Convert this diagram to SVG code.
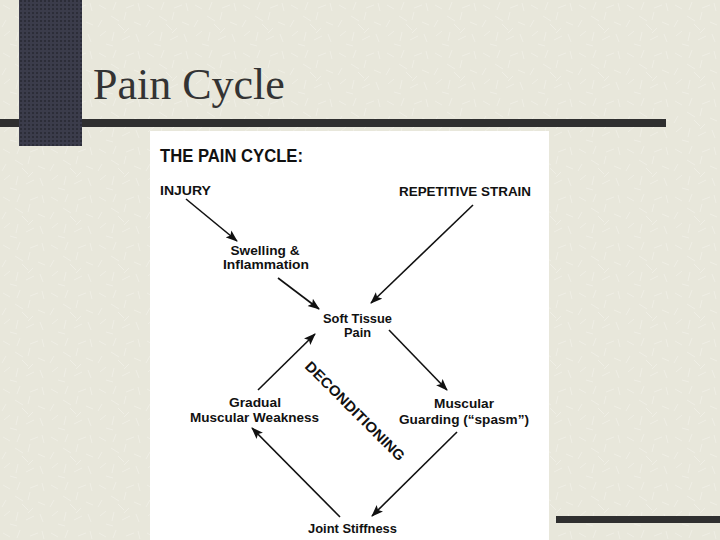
<svg xmlns="http://www.w3.org/2000/svg" width="720" height="540" viewBox="0 0 720 540">
<style>
.lbl{font-family:"Liberation Sans",Arial,sans-serif;font-weight:bold;fill:#111;text-anchor:middle;font-size:13px}
.cap{font-family:"Liberation Sans",Arial,sans-serif;font-weight:bold;fill:#111;font-size:12.5px}
.conn{stroke:#111;stroke-width:1.6;fill:none;marker-end:url(#ah)}
.bar{fill:#2f2f2f}
</style>
<defs>
<marker id="ah" viewBox="0 0 12 10" refX="11" refY="5" markerWidth="12" markerHeight="10" markerUnits="userSpaceOnUse" orient="auto">
<path d="M0,0.5 L12,5 L0,9.5 L2.5,5 Z" fill="#111"/>
</marker>
<pattern id="tex" width="48" height="48" patternUnits="userSpaceOnUse">
<rect width="48" height="48" fill="#e8e7db"/>
<g stroke="#efeee5" stroke-width="1">
<path d="M3,5 l7,4 M20,2 l-3,8 M30,8 l8,-3 M42,3 l2,8 M6,20 l-4,7 M15,16 l8,5 M28,20 l2,-8 M38,22 l7,3 M4,36 l6,-5 M18,32 l-2,9 M26,40 l8,-4 M40,34 l3,8 M10,44 l7,2 M33,28 l-5,5 M22,24 l6,6"/>
</g>
</pattern>
<pattern id="dots" width="4" height="4" patternUnits="userSpaceOnUse">
<rect width="4" height="4" fill="#3b3c4b"/>
<rect x="0" y="0" width="2" height="2" fill="#2c2d38"/>
</pattern>
</defs>
<rect width="720" height="540" fill="url(#tex)"/>
<rect class="bar" x="0" y="119" width="666" height="8"/>
<rect x="19" y="0" width="63" height="146" fill="url(#dots)"/>
<rect class="bar" x="556" y="516" width="164" height="7"/>
<text x="93" y="99" font-family="'Liberation Serif','Times New Roman',serif" font-size="44" fill="#333">Pain Cycle</text>
<rect x="150" y="131" width="399" height="409" fill="#fff"/>
<text x="160" y="162" font-family="'Liberation Sans',Arial,sans-serif" font-weight="bold" font-size="18" fill="#111" textLength="143" lengthAdjust="spacingAndGlyphs">THE PAIN CYCLE:</text>
<g id="injury"><text class="cap" x="160" y="195" textLength="51" lengthAdjust="spacingAndGlyphs">INJURY</text></g>
<g id="repetitive-strain"><text class="cap" x="399" y="196" textLength="132" lengthAdjust="spacingAndGlyphs">REPETITIVE STRAIN</text></g>
<g id="swelling"><text class="lbl" x="265" y="255" textLength="69" lengthAdjust="spacingAndGlyphs">Swelling &amp;</text><text class="lbl" x="266" y="269" textLength="86" lengthAdjust="spacingAndGlyphs">Inflammation</text></g>
<g id="soft-tissue"><text class="lbl" x="357.5" y="323" textLength="69" lengthAdjust="spacingAndGlyphs">Soft Tissue</text><text class="lbl" x="357.5" y="337" textLength="27" lengthAdjust="spacingAndGlyphs">Pain</text></g>
<g id="gradual"><text class="lbl" x="255" y="407" textLength="52" lengthAdjust="spacingAndGlyphs">Gradual</text><text class="lbl" x="254.5" y="422" textLength="129" lengthAdjust="spacingAndGlyphs">Muscular Weakness</text></g>
<g id="guarding"><text class="lbl" x="464" y="408" textLength="60" lengthAdjust="spacingAndGlyphs">Muscular</text><text class="lbl" x="464" y="424" textLength="130" lengthAdjust="spacingAndGlyphs">Guarding (“spasm”)</text></g>
<g id="joint"><text class="lbl" x="352.5" y="533" textLength="89" lengthAdjust="spacingAndGlyphs">Joint Stiffness</text></g>
<g id="deconditioning"><text class="lbl" style="font-size:14.5px" transform="translate(355,411) rotate(45)" x="0" y="5" textLength="134" lengthAdjust="spacingAndGlyphs">DECONDITIONING</text></g>
<g id="connectors">
<line class="conn" x1="186" y1="199" x2="237" y2="241"/>
<line class="conn" x1="473" y1="205" x2="371" y2="303"/>
<line class="conn" x1="278" y1="278" x2="319" y2="309"/>
<line class="conn" x1="389" y1="330" x2="447" y2="390"/>
<line class="conn" x1="457" y1="432" x2="372" y2="516"/>
<line class="conn" x1="340" y1="517" x2="252" y2="428"/>
<line class="conn" x1="258" y1="390" x2="315" y2="334"/>
</g>
</svg>
